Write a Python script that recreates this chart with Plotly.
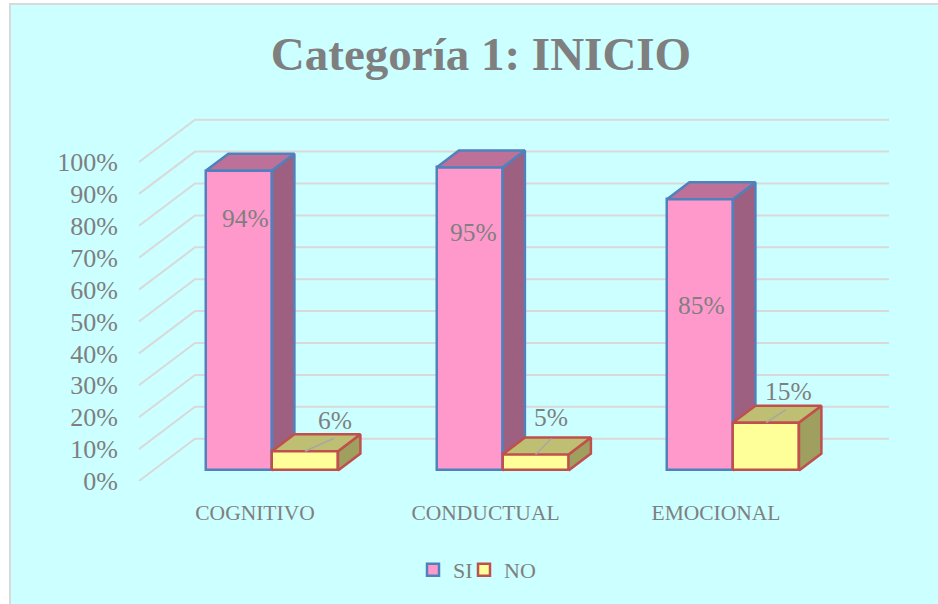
import plotly.graph_objects as go

# ---- data ----
categories = ["COGNITIVO", "CONDUCTUAL", "EMOCIONAL"]
si_values = [94, 95, 85]
no_values = [6, 5, 15]
tick_values = [0, 10, 20, 30, 40, 50, 60, 70, 80, 90, 100]
tick_labels = ["0%", "10%", "20%", "30%", "40%", "50%", "60%", "70%", "80%", "90%", "100%"]
series_names = ["SI", "NO"]

# ---- geometry / scale ----
W, H = 938, 604
PX_X = 230.5          # pixels per category
PX_Y = 3.19           # pixels per percent
ORIGIN_X = 258        # pixel of category 0 on the front plane
ORIGIN_Y = 481        # pixel of 0 % on the front plane
AXIS_LEFT = 126
KX = 56 / PX_X        # horizontal shift of full depth, in x units
KY = 42.3 / PX_Y      # vertical shift of full depth, in y units
D0, D1 = 0.25, 0.65   # bar position along the depth
BAR = 66 / PX_X
GRID_X0 = (139 - ORIGIN_X) / PX_X
GRID_X1 = (889 - 56 - ORIGIN_X) / PX_X
BASE = D0 * KY
SHIFT = D0 * KX
CAT_LABEL_SHIFT = -3 / PX_X

# ---- styles ----
TEXT = "#7F7F7F"
SERIF = "Liberation Serif"
GRID = "#D9D9D9"
STYLE = {
    "SI": dict(front="#FF99CC", top="#BD7098", side="#9E6080", line="#4F81BD", legend="legend"),
    "NO": dict(front="#FFFF99", top="#BFBF73", side="#9F9F60", line="#C0504D", legend="legend2"),
}
EDGE = 2.5
SI_LABEL_SHIFT = [(6, -48), (4, -65), (1, -106)]
NO_LABEL_SHIFT = [(30, 31), (15, 37), (22, 31)]
LEADER_END = [(29, 13), (16, 16), (20, 13)]

fig = go.Figure()

# back-wall grid
for v in tick_values:
    fig.add_trace(go.Scatter(
        x=[GRID_X0, GRID_X0 + KX, GRID_X1 + KX],
        y=[v, v + KY, v + KY],
        mode="lines", line=dict(color=GRID, width=2),
        showlegend=False, hoverinfo="skip"))


def add_series(name, values, centre_off, xa, ya):
    st = STYLE[name]
    fig.add_trace(go.Bar(
        x=[i + centre_off + SHIFT for i in range(len(values))],
        y=values, base=[BASE] * len(values), width=BAR, name=name,
        legend=st["legend"],
        marker=dict(color=st["front"], line=dict(color=st["line"], width=EDGE)),
        xaxis=xa, yaxis=ya, hoverinfo="skip"))
    dx, dy = (D1 - D0) * KX, (D1 - D0) * KY
    for i, v in enumerate(values):
        left = i + centre_off + SHIFT - BAR / 2
        right = left + BAR
        top = BASE + v
        fig.add_trace(go.Scatter(
            x=[right, right + dx, right + dx, right, right],
            y=[BASE, BASE + dy, top + dy, top, BASE],
            mode="lines", fill="toself", fillcolor=st["side"],
            line=dict(color=st["line"], width=EDGE),
            xaxis=xa, yaxis=ya, showlegend=False, hoverinfo="skip"))
        fig.add_trace(go.Scatter(
            x=[left, left + dx, right + dx, right, left],
            y=[top, top + dy, top + dy, top, top],
            mode="lines", fill="toself", fillcolor=st["top"],
            line=dict(color=st["line"], width=EDGE),
            xaxis=xa, yaxis=ya, showlegend=False, hoverinfo="skip"))


add_series("SI", si_values, -BAR / 2, "x2", "y2")
add_series("NO", no_values, BAR / 2, "x3", "y3")

# leader lines of the NO labels
for i, v in enumerate(no_values):
    xs = i + BAR / 2 + SHIFT
    ys = BASE + v
    ex, ey = LEADER_END[i]
    fig.add_trace(go.Scatter(
        x=[xs, xs + ex / PX_X], y=[ys, ys + ey / PX_Y],
        mode="lines", line=dict(color="#A6A6A6", width=1.5),
        xaxis="x3", yaxis="y3", showlegend=False, hoverinfo="skip"))

annotations = []
for i, v in enumerate(si_values):
    annotations.append(dict(
        x=i - BAR / 2 + SHIFT, y=BASE + v, xref="x", yref="y",
        text=f"{v}%", showarrow=False, font=dict(family=SERIF, size=25.5, color=TEXT),
        xshift=SI_LABEL_SHIFT[i][0], yshift=SI_LABEL_SHIFT[i][1]))
for i, v in enumerate(no_values):
    annotations.append(dict(
        x=i + BAR / 2 + SHIFT, y=BASE + v, xref="x", yref="y",
        text=f"{v}%", showarrow=False, font=dict(family=SERIF, size=25.5, color=TEXT),
        xshift=NO_LABEL_SHIFT[i][0], yshift=NO_LABEL_SHIFT[i][1]))

x_range = [(AXIS_LEFT - ORIGIN_X) / PX_X, (W - ORIGIN_X) / PX_X]
y_range = [0, ORIGIN_Y / PX_Y]
x_dom = [AXIS_LEFT / W, 1]
y_dom = [(H - ORIGIN_Y) / H, 1]
hidden = dict(visible=False, showgrid=False, zeroline=False)
legend_style = dict(orientation="h", xanchor="left", y=1 - 570 / H, yanchor="middle",
                    font=dict(family=SERIF, size=22, color=TEXT),
                    bgcolor="rgba(0,0,0,0)")

fig.update_layout(
    width=W, height=H,
    margin=dict(l=0, r=0, t=0, b=0, autoexpand=False),
    paper_bgcolor="white", plot_bgcolor="rgba(0,0,0,0)",
    barmode="overlay", bargap=0,
    title=dict(text="<b>Categoría 1: INICIO</b>", x=481 / W, xanchor="center",
               y=1 - 54 / H, yanchor="middle",
               font=dict(family=SERIF, size=47, color=TEXT)),
    xaxis=dict(domain=x_dom, range=x_range, tickmode="array",
               tickvals=[i + CAT_LABEL_SHIFT for i in range(len(categories))],
               ticktext=categories,
               ticks="outside", ticklen=12, tickcolor="rgba(0,0,0,0)",
               showgrid=False, zeroline=False, showline=False,
               tickfont=dict(family=SERIF, size=21.5, color=TEXT)),
    yaxis=dict(domain=y_dom, range=y_range, tickmode="array",
               tickvals=tick_values, ticktext=tick_labels,
               ticks="outside", ticklen=2, tickcolor="rgba(0,0,0,0)",
               showgrid=False, zeroline=False, showline=False,
               tickfont=dict(family=SERIF, size=26, color=TEXT)),
    xaxis2=dict(overlaying="x", matches="x", anchor="y2", **hidden),
    yaxis2=dict(overlaying="y", matches="y", anchor="x2", **hidden),
    xaxis3=dict(overlaying="x", matches="x", anchor="y3", **hidden),
    yaxis3=dict(overlaying="y", matches="y", anchor="x3", **hidden),
    legend=dict(x=413 / W, **legend_style),
    legend2=dict(x=464 / W, **legend_style),
    annotations=annotations,
    shapes=[dict(type="rect", xref="paper", yref="paper", layer="below",
                 x0=10 / W, x1=1.01, y0=-0.01, y1=1 - 4 / H,
                 fillcolor="#CCFFFF", line=dict(color="#D9D9D9", width=2))],
)

fig.write_html("out.html", config={"displayModeBar": False},
               post_script="document.body.style.margin='0';document.body.style.overflow='hidden';")
